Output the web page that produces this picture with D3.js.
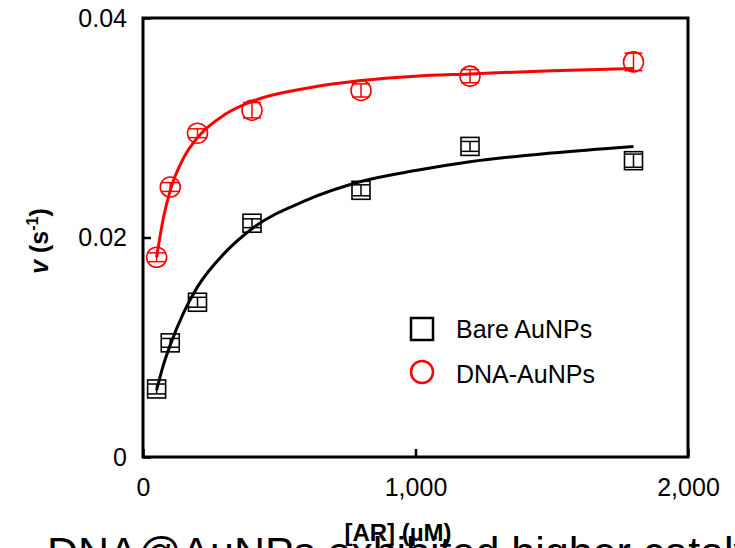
<!DOCTYPE html>
<html>
<head>
<meta charset="utf-8">
<script src="https://cdn.jsdelivr.net/npm/d3@7/dist/d3.min.js"></script>
<style>
  body { margin: 0; background: #fff; }
  svg { display: block; font-family: "Liberation Sans", Arial, sans-serif; }
</style>
</head>
<body>
<div id="chart-area"></div>
<script>
// substrate concentrations, uM
var conc = [50, 100, 200, 400, 800, 1200, 1800];

// measured rates (s^-1) with error bars
var bareV   = [0.0062, 0.0104, 0.0141, 0.0213, 0.0243, 0.0283, 0.0270];
var bareErr = [0.00045, 0.0004, 0.00045, 0.0004, 0.0005, 0.00045, 0.0006];
var dnaV    = [0.0182, 0.0246, 0.0295, 0.0316, 0.0334, 0.0347, 0.0360];
var dnaErr  = [0.0004, 0.0004, 0.0004, 0.0007, 0.0006, 0.0006, 0.0008];

// fitted curves
var fitConc = [50, 75, 100, 150, 200, 300, 400, 600, 800, 1000, 1200, 1500, 1800];
var bareFit = [0.0061, 0.0084, 0.0102, 0.0132, 0.0155, 0.0186, 0.0208, 0.0234, 0.0251, 0.0261, 0.0269, 0.0277, 0.0283];
var dnaFit  = [0.0182, 0.0218, 0.0243, 0.0273, 0.0291, 0.0312, 0.0324, 0.0336, 0.0343, 0.0347, 0.0349, 0.0352, 0.0354];

var xTicks = [0, 1000, 2000];
var yTicks = [0, 0.02, 0.04];

var legendNames = ["Bare AuNPs", "DNA-AuNPs"];

const W = 735, H = 548;
var margin = { top: 18, right: 47, bottom: 91, left: 143 };
var width = W - margin.left - margin.right,
    height = H - margin.top - margin.bottom;

var svg = d3.select("#chart-area")
    .append("svg")
      .attr("width", W)
      .attr("height", H);

var g = svg.append("g")
    .attr("transform", "translate(" + margin.left + "," + margin.top + ")");

var x = d3.scaleLinear().domain([0, 2000]).range([0, width]);
var y = d3.scaleLinear().domain([0, 0.04]).range([height, 0]);

// axes (ticks point inward)
var xAxis = g.append("g")
    .attr("transform", "translate(0," + height + ")")
    .call(d3.axisBottom(x).tickValues(xTicks).tickFormat(d3.format(",")).tickSizeInner(-8).tickSizeOuter(0).tickPadding(21));

var yAxis = g.append("g")
    .call(d3.axisLeft(y).tickValues(yTicks).tickFormat(function(d) { return d === 0 ? "0" : d3.format(".2f")(d); })
      .tickSizeInner(-8).tickSizeOuter(0).tickPadding(16));

[xAxis, yAxis].forEach(function(a) {
  a.select(".domain").remove();
  a.selectAll("line").attr("stroke", "#000").attr("stroke-width", 2.5);
  a.selectAll("text").attr("font-size", "25px").attr("fill", "#000")
    .attr("font-family", "Liberation Sans, Arial, sans-serif");
});

// frame
g.append("rect")
    .attr("width", width)
    .attr("height", height)
    .attr("fill", "none")
    .attr("stroke", "#000")
    .attr("stroke-width", 3);

var line = d3.line()
    .x(function(d) { return x(d[0]); })
    .y(function(d) { return y(d[1]); })
    .curve(d3.curveMonotoneX);

function drawSeries(vals, errs, fit, color, shape) {
  var pts = conc.map(function(c, i) { return { c: c, v: vals[i], e: errs[i] }; });
  var s = g.append("g");

  // error bars
  var eb = s.selectAll(".eb").data(pts).enter().append("g")
      .attr("stroke", color).attr("stroke-width", 1.5);
  eb.append("line")
      .attr("x1", function(d) { return x(d.c); }).attr("x2", function(d) { return x(d.c); })
      .attr("y1", function(d) { return y(d.v - d.e); }).attr("y2", function(d) { return y(d.v + d.e); });
  [-1, 1].forEach(function(sg) {
    eb.append("line")
        .attr("x1", function(d) { return x(d.c) - 9; }).attr("x2", function(d) { return x(d.c) + 9; })
        .attr("y1", function(d) { return y(d.v + sg * d.e); }).attr("y2", function(d) { return y(d.v + sg * d.e); });
  });

  // markers
  if (shape === "square") {
    s.selectAll(".m").data(pts).enter().append("rect")
        .attr("x", function(d) { return x(d.c) - 9; })
        .attr("y", function(d) { return y(d.v) - 9; })
        .attr("width", 18).attr("height", 18)
        .attr("fill", "none").attr("stroke", color).attr("stroke-width", 1.6);
  } else {
    s.selectAll(".m").data(pts).enter().append("circle")
        .attr("cx", function(d) { return x(d.c); })
        .attr("cy", function(d) { return y(d.v); })
        .attr("r", 10)
        .attr("fill", "none").attr("stroke", color).attr("stroke-width", 1.6);
  }

  // fitted curve
  s.append("path")
      .attr("fill", "none")
      .attr("stroke", color)
      .attr("stroke-width", 3)
      .attr("d", line(fitConc.map(function(c, i) { return [c, fit[i]]; })));
}

drawSeries(bareV, bareErr, bareFit, "#000", "square");
drawSeries(dnaV, dnaErr, dnaFit, "#ff0000", "circle");

// legend
var leg = svg.append("g").attr("transform", "translate(422,329)");
leg.append("rect")
    .attr("x", -11).attr("y", -11).attr("width", 22).attr("height", 22)
    .attr("fill", "none").attr("stroke", "#000").attr("stroke-width", 2.5);
leg.append("circle")
    .attr("cx", 0).attr("cy", 43).attr("r", 11)
    .attr("fill", "none").attr("stroke", "#ff0000").attr("stroke-width", 2.5);
leg.selectAll("text").data(legendNames).enter().append("text")
    .attr("x", 34)
    .attr("y", function(d, i) { return 9 + i * 45; })
    .attr("font-size", "25px")
    .text(function(d) { return d; });

// caption text of the slide, cut by the bottom edge
svg.append("text")
    .attr("x", 47)
    .attr("y", 567)
    .attr("font-size", "43px")
    .text("DNA@AuNPs exhibited higher catalytic activity");

// axis titles
svg.append("text")
    .attr("x", 398)
    .attr("y", 541)
    .attr("text-anchor", "middle")
    .attr("font-size", "24px")
    .attr("font-weight", "bold")
    .text("[AR] (\u00b5M)");

var yt = svg.append("text")
    .attr("transform", "translate(48,241) rotate(-90)")
    .attr("text-anchor", "middle")
    .attr("font-size", "25px")
    .attr("font-weight", "bold");
yt.append("tspan").attr("font-style", "italic").text("v");
yt.append("tspan").text(" (s");
yt.append("tspan").attr("font-size", "16px").attr("dy", "-10").text("-1");
yt.append("tspan").attr("dy", "10").text(")");
</script>
</body>
</html>
